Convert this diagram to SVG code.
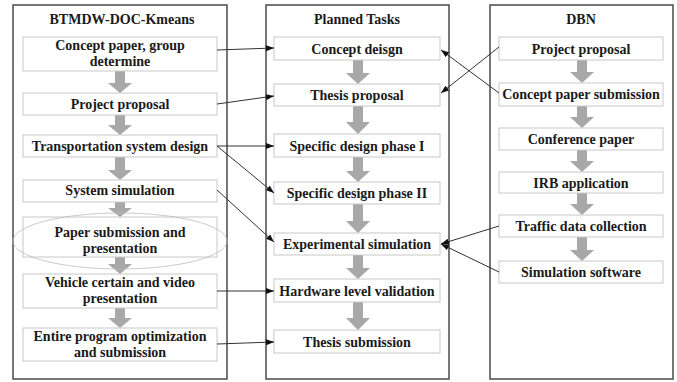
<svg xmlns="http://www.w3.org/2000/svg" width="677" height="382" viewBox="0 0 677 382">
<defs>
<style>
.cont{fill:#fff;stroke:#4a4a4a;stroke-width:1.5}
.box{fill:#fff;stroke:#c8c8c8;stroke-width:1}
.t{font-family:"Liberation Serif","Times New Roman",serif;font-weight:bold;font-size:14px;fill:#1a1a1a;text-anchor:middle}
.ga{fill:#a8a8a8}
.c{stroke:#333;stroke-width:1;fill:none;marker-end:url(#ah)}
</style>
<marker id="ah" viewBox="0 0 8 6" refX="8" refY="3" markerWidth="8" markerHeight="6" markerUnits="userSpaceOnUse" orient="auto">
<path d="M0,0 L8,3 L0,6 Z" fill="#111"/>
</marker>
</defs>
<rect width="677" height="382" fill="#fff"/>

<g id="containers">
<rect class="cont" x="13" y="5" width="214" height="374"/>
<rect class="cont" x="266" y="5" width="183" height="374"/>
<rect class="cont" x="490" y="5" width="183" height="374"/>
<text class="t" x="122" y="24">BTMDW-DOC-Kmeans</text>
<text class="t" x="357" y="24">Planned Tasks</text>
<text class="t" x="581" y="24">DBN</text>
</g>

<g id="flow-arrows">
<polygon class="ga" points="115,71 125,71 125,83 132,83 120,93 108,83 115,83"/>
<polygon class="ga" points="115,115 125,115 125,125 132,125 120,135 108,125 115,125"/>
<polygon class="ga" points="115,157 125,157 125,170 132,170 120,180 108,170 115,170"/>
<polygon class="ga" points="115,202 125,202 125,208 132,208 120,217 108,208 115,208"/>
<polygon class="ga" points="115,257 125,257 125,264 132,264 120,274 108,264 115,264"/>
<polygon class="ga" points="115,308 125,308 125,318 132,318 120,328 108,318 115,318"/>

<polygon class="ga" points="353,60 363,60 363,73 370,73 358,84 346,73 353,73"/>
<polygon class="ga" points="353,106 363,106 363,122 370,122 358,134 346,122 353,122"/>
<polygon class="ga" points="353,157 363,157 363,171 370,171 358,182 346,171 353,171"/>
<polygon class="ga" points="353,204 363,204 363,221 370,221 358,233 346,221 353,221"/>
<polygon class="ga" points="353,255 363,255 363,268 370,268 358,279 346,268 353,268"/>
<polygon class="ga" points="353,302 363,302 363,318 370,318 358,330 346,318 353,318"/>

<polygon class="ga" points="577,60 587,60 587,72 594,72 582,83 570,72 577,72"/>
<polygon class="ga" points="577,106 587,106 587,117 594,117 582,128 570,117 577,117"/>
<polygon class="ga" points="577,150 587,150 587,161 594,161 582,172 570,161 577,161"/>
<polygon class="ga" points="577,193 587,193 587,204 594,204 582,215 570,204 577,204"/>
<polygon class="ga" points="577,237 587,237 587,250 594,250 582,261 570,250 577,250"/>
</g>

<g id="left-nodes">
<g id="l1"><rect class="box" x="23" y="37" width="194" height="34"/><text class="t" x="120" y="50">Concept paper, group</text><text class="t" x="120" y="66">determine</text></g>
<g id="l2"><rect class="box" x="23" y="93" width="194" height="22"/><text class="t" x="120" y="109">Project proposal</text></g>
<g id="l3"><rect class="box" x="23" y="135" width="194" height="22"/><text class="t" x="120" y="151">Transportation system design</text></g>
<g id="l4"><rect class="box" x="23" y="180" width="194" height="22"/><text class="t" x="120" y="195">System simulation</text></g>
<g id="l5"><rect class="box" x="23" y="217" width="194" height="40"/><text class="t" x="120" y="237">Paper submission and</text><text class="t" x="120" y="253">presentation</text><ellipse cx="120" cy="241" rx="107" ry="28" fill="none" stroke="#bdbdbd" stroke-width="0.8"/></g>
<g id="l6"><rect class="box" x="23" y="274" width="194" height="34"/><text class="t" x="120" y="287">Vehicle certain and video</text><text class="t" x="120" y="303">presentation</text></g>
<g id="l7"><rect class="box" x="23" y="328" width="194" height="33"/><text class="t" x="120" y="340.5">Entire program optimization</text><text class="t" x="120" y="357">and submission</text></g>
</g>

<g id="mid-nodes">
<g id="m1"><rect class="box" x="274" y="37" width="166" height="23"/><text class="t" x="357" y="53.5">Concept deisgn</text></g>
<g id="m2"><rect class="box" x="274" y="84" width="166" height="22"/><text class="t" x="357" y="100">Thesis proposal</text></g>
<g id="m3"><rect class="box" x="274" y="134" width="166" height="23"/><text class="t" x="357" y="151">Specific design phase I</text></g>
<g id="m4"><rect class="box" x="274" y="182" width="166" height="22"/><text class="t" x="357" y="198">Specific design phase II</text></g>
<g id="m5"><rect class="box" x="274" y="233" width="166" height="22"/><text class="t" x="357" y="249">Experimental simulation</text></g>
<g id="m6"><rect class="box" x="274" y="279" width="166" height="23"/><text class="t" x="357" y="296">Hardware level validation</text></g>
<g id="m7"><rect class="box" x="274" y="330" width="166" height="23"/><text class="t" x="357" y="347">Thesis submission</text></g>
</g>

<g id="right-nodes">
<g id="r1"><rect class="box" x="499" y="37" width="164" height="23"/><text class="t" x="581" y="53.5">Project proposal</text></g>
<g id="r2"><rect class="box" x="499" y="83" width="164" height="23"/><text class="t" x="581" y="99">Concept paper submission</text></g>
<g id="r3"><rect class="box" x="499" y="128" width="164" height="22"/><text class="t" x="581" y="144">Conference paper</text></g>
<g id="r4"><rect class="box" x="499" y="172" width="164" height="21"/><text class="t" x="581" y="188">IRB application</text></g>
<g id="r5"><rect class="box" x="499" y="215" width="164" height="22"/><text class="t" x="581" y="231">Traffic data collection</text></g>
<g id="r6"><rect class="box" x="499" y="261" width="164" height="22"/><text class="t" x="581" y="277">Simulation software</text></g>
</g>

<g id="connectors">
<line class="c" x1="217" y1="50" x2="274" y2="48"/>
<line class="c" x1="217" y1="104" x2="274" y2="96"/>
<line class="c" x1="217" y1="146" x2="274" y2="146"/>
<line class="c" x1="217" y1="146" x2="274" y2="193"/>
<line class="c" x1="217" y1="190" x2="274" y2="242"/>
<line class="c" x1="217" y1="291" x2="274" y2="291"/>
<line class="c" x1="217" y1="344" x2="274" y2="342"/>
<line class="c" x1="499" y1="93" x2="441" y2="50"/>
<line class="c" x1="499" y1="47" x2="441" y2="93"/>
<line class="c" x1="499" y1="226" x2="441" y2="244"/>
<line class="c" x1="499" y1="272" x2="441" y2="244"/>
</g>
</svg>
